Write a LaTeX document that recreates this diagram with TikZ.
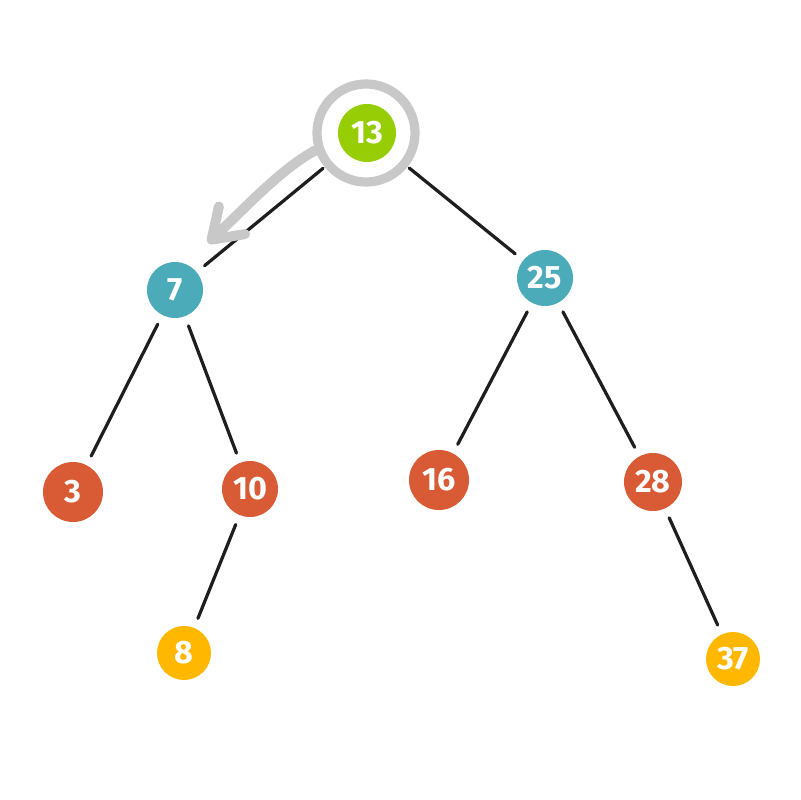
\documentclass[tikz,border=0pt]{standalone}
\usepackage{fontspec}
\setsansfont{Fira Sans}
\usetikzlibrary{arrows.meta, positioning}
\definecolor{rootc}{RGB}{151,205,4}
\definecolor{midc}{RGB}{76,171,184}
\definecolor{lowc}{RGB}{217,91,54}
\definecolor{leafc}{RGB}{255,183,0}
\definecolor{ringc}{RGB}{200,200,200}
\definecolor{linkc}{RGB}{30,30,30}

\begin{document}
\begin{tikzpicture}[x=0.025cm, y=-0.025cm,
		key/.style={circle, minimum size=1.45cm, inner sep=0pt, text=white,
			font=\sffamily\bfseries\fontsize{23}{23}\selectfont},
		link/.style={linkc, line width=2.3pt, line cap=round, shorten <=0.25cm, shorten >=0.25cm}]
			\useasboundingbox (0,0) rectangle (800,800);
			% root with its ring
			\node[circle, draw=ringc, line width=0.23cm, minimum size=2.45cm] (ring) at (366,133) {};
			\node[key, fill=rootc] (n13) at (367,133) {13};
			% first level
			\node[key, fill=midc, minimum size=1.4cm] (n7) at (175,290) {7};
			\node[key, fill=midc, minimum size=1.4cm] (n25) at (545,278) {25};
			% second level
			\node[key, fill=lowc, minimum size=1.5cm] (n3) at (73,492) {3};
			\node[key, fill=lowc, minimum size=1.4cm] (n10) at (250,489) {10};
			\node[key, fill=lowc, minimum size=1.5cm] (n16) at (439,480) {16};
			\node[key, fill=lowc, minimum size=1.45cm] (n28) at (653,482) {28};
			% third level
			\node[key, fill=leafc, minimum size=1.35cm] (n8) at (184,653) {8};
			\node[key, fill=leafc, minimum size=1.35cm] (n37) at (733,659) {37};
			% links
			\draw[link, shorten <=0.05cm] (ring) -- (n7);
			\draw[link, shorten <=0.05cm] (ring) -- (n25);
			\draw[link] (n7) -- (n3);
			\draw[link] (n7) -- (n10);
			\draw[link] (n10) -- (n8);
			\draw[link] (n25) -- (n16);
			\draw[link] (n25) -- (n28);
			\draw[link] (n28) -- (n37);
			% search step arrow
			\coordinate (tip) at (208,243);
			\draw[ringc, line width=0.25cm, line cap=round,
				-{Straight Barb[length=0.7cm, width=0.95cm, round]}]
				(ring.199) .. controls (282,168) and (245,208) .. (tip);
		\end{tikzpicture}
\end{document}
